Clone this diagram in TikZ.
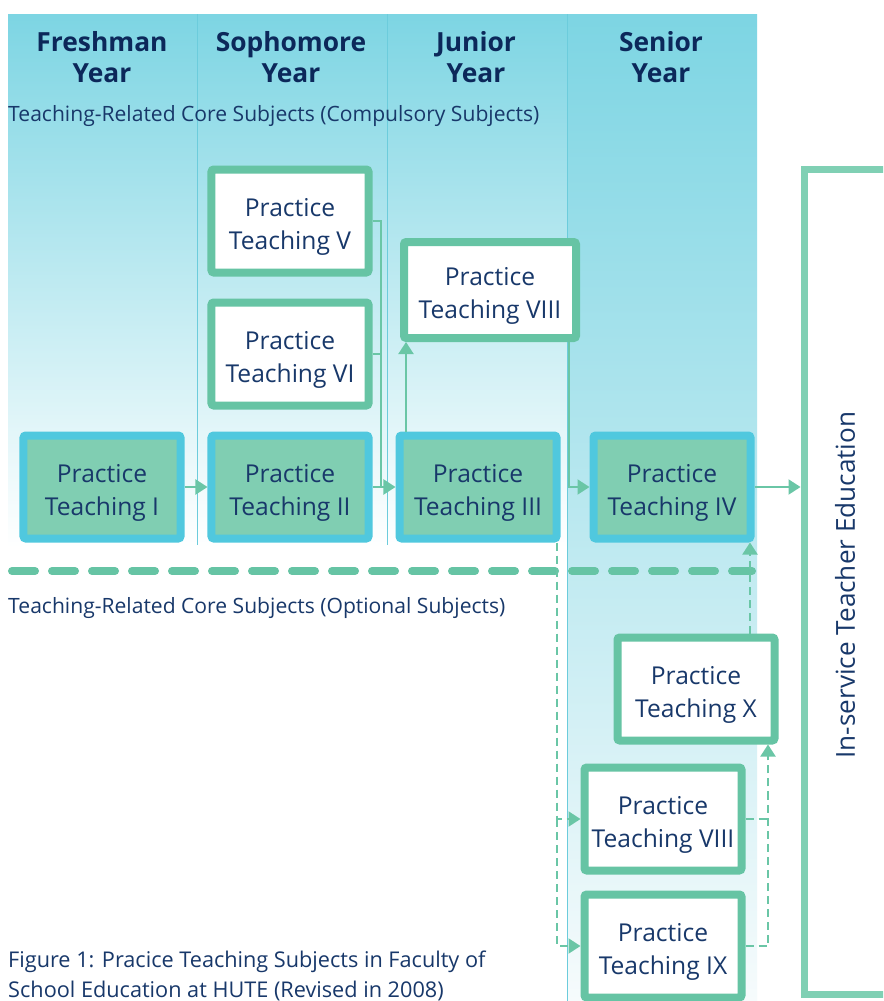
\documentclass[tikz,border=0pt]{standalone}
\usepackage{fontspec}
\setmainfont{Open Sans}
\usetikzlibrary{arrows.meta}

\definecolor{hdr}{RGB}{125,213,227}
\definecolor{leftmid}{RGB}{192,232,240}
\definecolor{senmid}{RGB}{180,227,237}
\definecolor{senbot}{RGB}{246,251,252}
\definecolor{sepcol}{RGB}{108,204,220}
\definecolor{cyanline}{RGB}{80,200,222}
\definecolor{corefill}{RGB}{128,206,178}
\definecolor{greenline}{RGB}{102,196,164}
\definecolor{isegreen}{RGB}{128,208,180}
\definecolor{conncol}{RGB}{106,198,166}
\definecolor{navy}{RGB}{24,56,106}
\definecolor{darknavy}{RGB}{12,40,90}

\newcommand{\boxfont}{\fontsize{21}{28}\selectfont}
\newcommand{\yearfont}{\fontsize{22.5}{26}\selectfont\bfseries}
\newcommand{\notefont}{\fontsize{18}{22}\selectfont}

\tikzset{
  core/.style={draw=cyanline, fill=corefill, line width=0.24cm, rounded corners=2pt,
    minimum width=4.71cm, minimum height=3.09cm, inner sep=0pt, align=center,
    text height=48pt, text depth=0pt, text=navy, font=\boxfont},
  extra/.style={core, draw=greenline, fill=white},
  year/.style={align=center, text=darknavy, font=\yearfont, inner sep=0pt},
  note/.style={anchor=west, text=navy, font=\notefont, inner sep=0pt},
  arr/.style={draw=conncol, line width=0.06cm, -{Triangle[length=0.36cm, width=0.45cm]}},
  link/.style={draw=conncol, line width=0.06cm},
  darr/.style={arr, dash pattern=on 0.24cm off 0.15cm},
  dlink/.style={link, dash pattern=on 0.24cm off 0.15cm},
  bigdash/.style={draw=greenline, line width=0.24cm, line cap=round, dash pattern=on 0.69cm off 0.51cm}
}

\begin{document}
\begin{tikzpicture}[x=0.03cm, y=-0.03cm]
	\clip (0,0) rectangle (883,1001);
	\fill[white] (0,0) rectangle (883,1001);

	% background of the four years
	\shade[top color=hdr, middle color=leftmid, bottom color=white] (8,14) rectangle (567,548);
	\shade[top color=hdr, middle color=senmid, bottom color=senbot] (567,14) rectangle (757,1001);
	\draw[sepcol, line width=0.4pt] (197,14) -- (197,545);
	\draw[sepcol, line width=0.4pt] (387,14) -- (387,545);
	\draw[sepcol, line width=0.4pt] (567,14) -- (567,1001);

	\node[year] (fresh) at (102,57) {Freshman\\Year};
	\node[year] (soph) at (291,57) {Sophomore\\Year};
	\node[year] (junior) at (476,57) {Junior\\Year};
	\node[year] (senior) at (661,57) {Senior\\Year};

	\node[note] (compulsory) at (8,116) {Teaching-Related Core Subjects (Compulsory Subjects)};
	\node[note] (optional) at (8,608) {Teaching-Related Core Subjects (Optional Subjects)};

	% compulsory row
	\node[core] (p1) at (102,487) {Practice\\Teaching I};
	\node[core] (p2) at (290,487) {Practice\\Teaching II};
	\node[core] (p3) at (478,487) {Practice\\Teaching III};
	\node[core] (p4) at (672,487) {Practice\\Teaching IV};

	\node[extra] (p5) at (290,221) {Practice\\Teaching V};
	\node[extra] (p6) at (290,354) {Practice\\Teaching VI};
	\node[extra, minimum width=5.16cm, minimum height=2.88cm] (p8) at (490,290) {Practice\\Teaching VIII};

	% optional column
	\node[extra] (q10) at (696,689) {Practice\\Teaching X};
	\node[extra] (q8) at (663,819) {Practice\\Teaching VIII};
	\node[extra] (q9) at (663,946) {Practice\\Teaching IX};

	\node[draw=isegreen, line width=0.21cm, minimum width=2.52cm, minimum height=24.72cm] (ise) at (846,582) {};
	\node[rotate=90, text=navy, font=\fontsize{22.3}{26}\selectfont, inner sep=0pt] (isetext) at (845,585) {In-service Teacher Education};

	\coordinate (jn) at (381,0);
	\coordinate (up) at (406,0);
	\coordinate (dn) at (569,0);
	\coordinate (dd) at (557,0);
	\coordinate (ru) at (768,0);
	\coordinate (uu) at (750,0);
	\coordinate (sepL) at (12,571);
	\coordinate (sepR) at (752,571);

	\draw[arr] (p1) -- (p2);
	\draw[link] (p5.east) -| (jn |- p3.west);
	\draw[link] (p6.east) -- (p6.east -| jn);
	\draw[arr] (p2) -- (p3);
	\draw[arr] (up |- p3.north) -- (up |- p8.south);
	\draw[arr] (dn |- p8.south) |- (p4.west);
	\draw[arr] (p4.east) -- (p4.east -| ise.west);

	\draw[bigdash] (sepL) -- (sepR);

	\draw[darr] (dd |- p3.south) |- (q8.west);
	\draw[darr] (dd |- q8.west) |- (q9.west);
	\draw[dlink] (q8.east) -- (q8.east -| ru);
	\draw[darr] (q9.east) -| (ru |- q10.south);
	\draw[darr] (uu |- q10.north) -- (uu |- p4.south);

	\node[text=navy, font=\fontsize{18.5}{25.5}\selectfont, align=left, anchor=north west, inner sep=0pt] (caption) at (8,951)
	  {Figure 1: Pracice Teaching Subjects in Faculty of\\School Education at HUTE (Revised in 2008)};
\end{tikzpicture}
\end{document}
